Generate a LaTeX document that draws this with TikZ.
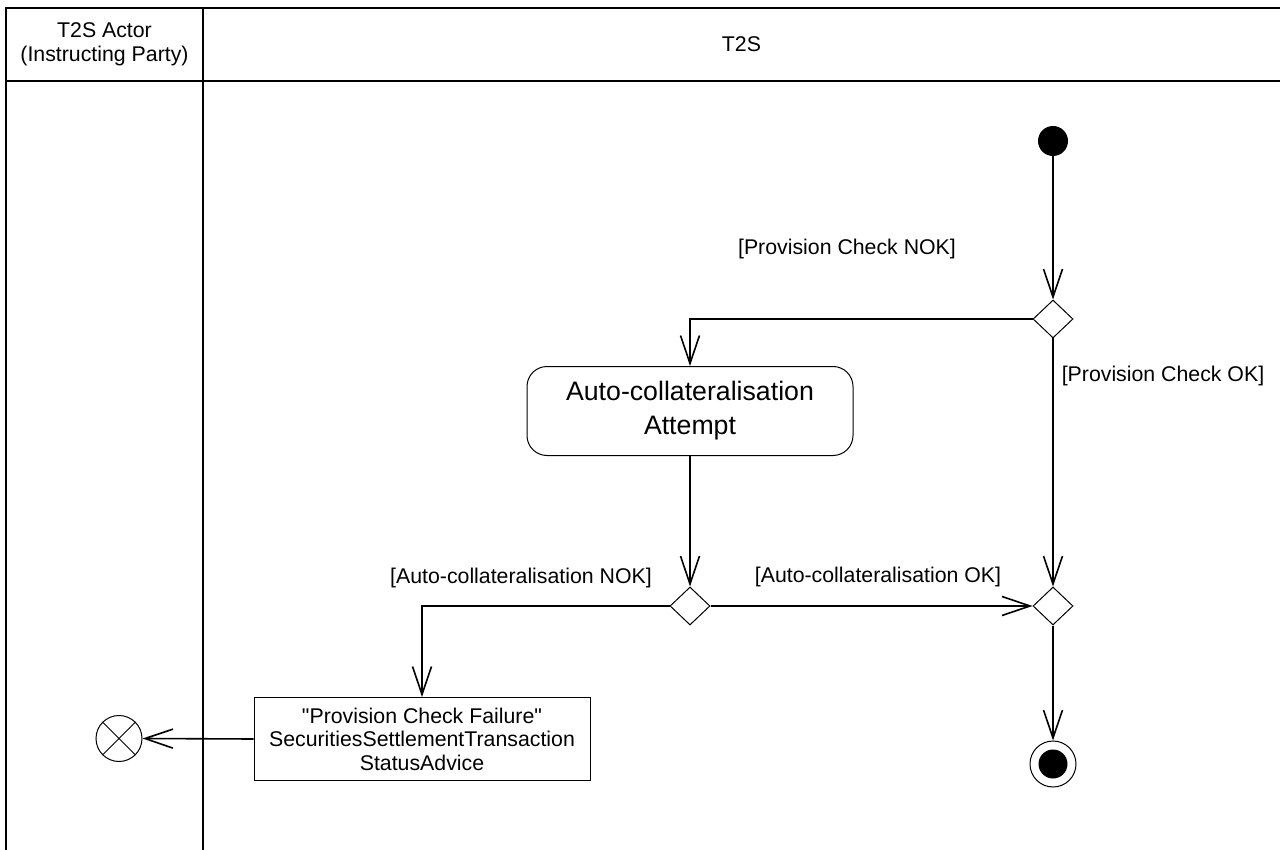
\documentclass[tikz,border=0pt]{standalone}
\usepackage{fontspec}
\setmainfont{Liberation Sans}
\usetikzlibrary{shapes.geometric,arrows.meta}
\newcommand\straightquote{\XeTeXglyph\XeTeXcharglyph"22\relax}
\begin{document}
\begin{tikzpicture}[x=1pt,y=-1pt,
  lane/.style={line width=1.6pt},
  lbl/.style={inner sep=0pt, font=\fontsize{21.3}{24}\selectfont, align=center},
  flow/.style={line width=1.6pt, -{Straight Barb[length=28pt,width=19pt,line width=1.6pt]}},
  dec/.style={diamond, draw, line width=1pt, minimum width=40pt, minimum height=38pt, inner sep=0pt},
  initnode/.style={circle, fill=black, minimum size=30pt, inner sep=0pt},
  finalnode/.style={circle, draw, line width=1pt, minimum size=46pt, inner sep=0pt},
  flowfinal/.style={circle, draw, line width=1pt, minimum size=46pt, inner sep=0pt},
  actnode/.style={draw, line width=1pt, rounded corners=20pt, minimum width=326pt, minimum height=89pt, align=center, font=\fontsize{26.7}{34}\selectfont},
  objnode/.style={draw, line width=1pt, minimum width=336pt, minimum height=83pt, align=center, inner sep=0pt, font=\fontsize{21.3}{23.5}\selectfont}
]
\useasboundingbox (0,0) rectangle (1280,850);
% swimlanes
\draw[lane] (6,850) -- (6,8) -- (1282,8);
\draw[lane] (6,81) -- (1282,81);
\draw[lane] (203,8) -- (203,850);
\node[lbl] (h1) at (104.5,44.5) {T2S Actor\\(Instructing Party)};
\node[lbl] (h2) at (741.5,44.5) {T2S};
% nodes
\node[initnode] (start) at (1053,141) {};
\node[dec] (d1) at (1053,319) {};
\node[actnode] (act) at (690,411) {Auto-collateralisation\\Attempt};
\node[dec] (d2) at (690,606) {};
\node[dec] (merge) at (1053,606) {};
\node[finalnode] (fin) at (1053,764) {};
\fill (fin.center) circle (14.5);
\node[objnode] (obj) at (422,739) {\straightquote Provision Check Failure\straightquote\\SecuritiesSettlementTransaction\\StatusAdvice};
\node[flowfinal] (ff) at (119,738.5) {};
\draw[line width=1pt] (ff.north west) -- (ff.south east);
\draw[line width=1pt] (ff.north east) -- (ff.south west);
% edges
\draw[flow] (start) -- (d1);
\draw[flow] (d1.west) -| (act.north);
\draw[flow] (d1.south) -- (merge.north);
\draw[flow] (act.south) -- (d2.north);
\draw[flow] (d2.west) -| (obj.north);
\draw[flow] (d2.east) -- (merge.west);
\draw[flow] (merge.south) -- (fin.north);
\draw[flow] (obj.west) -- (ff.east);
% guards
\node[lbl] (g1) at (847,249) {[Provision Check NOK]};
\node[lbl] (g2) at (1163,376) {[Provision Check OK]};
\node[lbl] (g3) at (521,578) {[Auto-collateralisation NOK]};
\node[lbl] (g4) at (878,577) {[Auto-collateralisation OK]};
\end{tikzpicture}
\end{document}
